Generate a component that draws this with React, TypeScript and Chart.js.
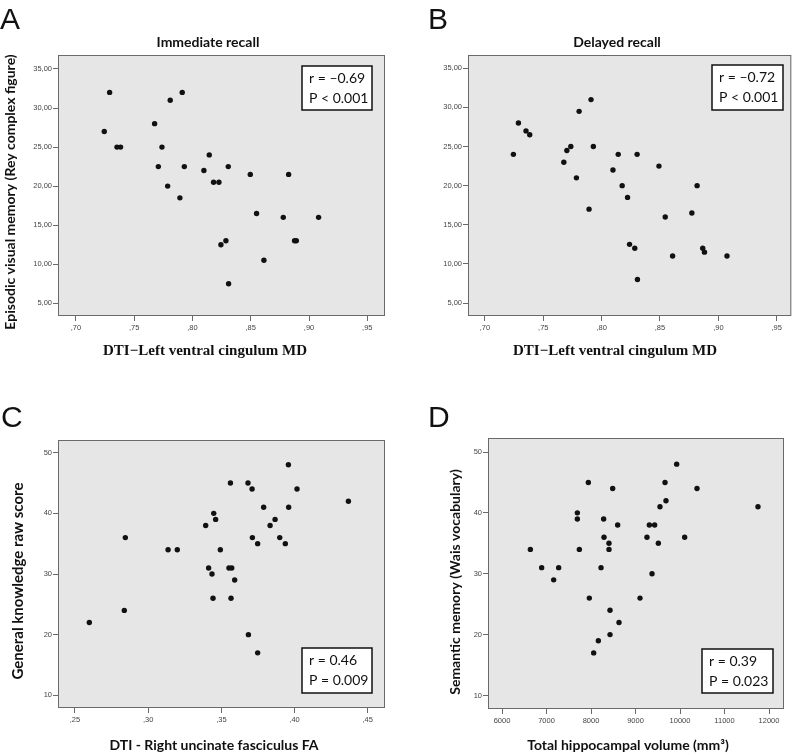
import React, { useEffect, useRef } from "react";
import { Chart, registerables } from "chart.js";

Chart.register(...registerables);

// ---------------- DATA ----------------
// Panel A: Immediate recall vs DTI left ventral cingulum MD
const aMD = [0.7243, 0.7289, 0.7352, 0.7383, 0.7738, 0.7675, 0.7707, 0.7787, 0.7809, 0.7892, 0.7912, 0.793, 0.8098, 0.8144, 0.8181, 0.8227, 0.8244, 0.8287, 0.8307, 0.831, 0.8496, 0.855, 0.8613, 0.8779, 0.8825, 0.8876, 0.8891, 0.9082];
const aImmediate = [27, 32, 25, 25, 25, 28, 22.5, 20, 31, 18.5, 32, 22.5, 22, 24, 20.5, 20.5, 12.5, 13, 22.5, 7.5, 21.5, 16.5, 10.5, 16, 21.5, 13, 13, 16];

// Panel B: Delayed recall vs DTI left ventral cingulum MD
const bMD = [0.7244, 0.7287, 0.7352, 0.7384, 0.7676, 0.7702, 0.7736, 0.7784, 0.7807, 0.7892, 0.7909, 0.7929, 0.8097, 0.8142, 0.8176, 0.8222, 0.8239, 0.8284, 0.8304, 0.8307, 0.8491, 0.8545, 0.8608, 0.8773, 0.8818, 0.8866, 0.8881, 0.9074];
const bDelayed = [24, 28, 27, 26.5, 23, 24.5, 25, 21, 29.5, 17, 31, 25, 22, 24, 20, 18.5, 12.5, 12, 24, 8, 22.5, 16, 11, 16.5, 20, 12, 11.5, 11];

// Panel C: General knowledge vs right uncinate fasciculus FA
const cFA = [0.2598, 0.2837, 0.2844, 0.3136, 0.3199, 0.3393, 0.3413, 0.3436, 0.3443, 0.3448, 0.3461, 0.3493, 0.3552, 0.3571, 0.3562, 0.3566, 0.3591, 0.3682, 0.3685, 0.371, 0.3712, 0.3748, 0.3748, 0.3789, 0.3833, 0.3867, 0.3899, 0.3937, 0.3958, 0.396, 0.4017, 0.4368];
const cKnowledge = [22, 24, 36, 34, 34, 38, 31, 30, 26, 40, 39, 34, 31, 31, 45, 26, 29, 45, 20, 44, 36, 35, 17, 41, 38, 39, 36, 35, 48, 41, 44, 42];

// Panel D: Semantic memory vs total hippocampal volume
const dVolume = [6637, 6891, 7161, 7273, 7693, 7693, 7738, 7940, 7962, 8060, 8165, 8225, 8284, 8292, 8404, 8404, 8427, 8427, 8487, 8599, 8629, 9101, 9258, 9311, 9371, 9430, 9513, 9550, 9663, 9685, 9925, 10105, 10382, 11752];
const dVocabulary = [34, 31, 29, 31, 40, 39, 34, 45, 26, 17, 19, 31, 39, 36, 35, 34, 24, 20, 44, 38, 22, 26, 36, 38, 30, 38, 35, 41, 45, 42, 48, 36, 44, 41];

// Tick values and labels
const mdTicks = [0.7, 0.75, 0.8, 0.85, 0.9, 0.95];
const mdTickLabels = [",70", ",75", ",80", ",85", ",90", ",95"];
const recallTicks = [5, 10, 15, 20, 25, 30, 35];
const recallTickLabels = ["5,00", "10,00", "15,00", "20,00", "25,00", "30,00", "35,00"];
const faTicks = [0.25, 0.3, 0.35, 0.4, 0.45];
const faTickLabels = [",25", ",30", ",35", ",40", ",45"];
const scoreTicks = [10, 20, 30, 40, 50];
const scoreTickLabels = ["10", "20", "30", "40", "50"];
const volumeTicks = [6000, 7000, 8000, 9000, 10000, 11000, 12000];
const volumeTickLabels = ["6000", "7000", "8000", "9000", "10000", "11000", "12000"];

// Texts
const panelLetters = ["A", "B", "C", "D"];
const panelTitles = ["Immediate recall", "Delayed recall", "", ""];
const statR = ["r = \u20130.69", "r = \u20130.72", "r = 0.46", "r = 0.39"];
const statP = ["P < 0.001", "P < 0.001", "P = 0.009", "P = 0.023"];
const yTitles = ["Episodic visual memory (Rey complex figure)", "", "General knowledge raw score", "Semantic memory (Wais vocabulary)"];
const xTitles = ["DTI\u2212Left ventral cingulum MD", "DTI\u2212Left ventral cingulum MD", "DTI - Right uncinate fasciculus FA", "Total hippocampal volume (mm\u00b3)"];

// ---------------- LAYOUT ----------------
const W = 794;
const H = 754;
const Y_AXIS_W = 30;
const X_AXIS_H = 20;

type PanelLayout = {
  plot: [number, number, number, number]; // left, top, right, bottom
  xRange: [number, number];
  yRange: [number, number];
  letter: [number, number];
  title: [number, number];
  yTitle: [number, number];
  yTitleFont: string;
  xTitle: [number, number];
  xTitleFont: string;
  box: [number, number, number, number];
};

const layouts: PanelLayout[] = [
  {
    plot: [58, 55, 385, 316],
    xRange: [0.6846, 0.9652],
    yRange: [3.37, 36.79],
    letter: [0, 29],
    title: [208, 42],
    yTitle: [10, 192],
    yTitleFont: "bold 14px Lato",
    xTitle: [205, 351],
    xTitleFont: "bold 15px 'Liberation Serif'",
    box: [302, 66, 372, 110],
  },
  {
    plot: [468, 55, 793, 316],
    xRange: [0.6855, 0.9625],
    yRange: [3.34, 36.7],
    letter: [428, 29],
    title: [617, 42],
    yTitle: [0, 0],
    yTitleFont: "bold 14px Lato",
    xTitle: [615, 351],
    xTitleFont: "bold 15px 'Liberation Serif'",
    box: [712, 65, 783, 110],
  },
  {
    plot: [58, 440, 385, 708],
    xRange: [0.2384, 0.4618],
    yRange: [7.91, 52.09],
    letter: [1, 427],
    title: [0, 0],
    yTitle: [18, 581],
    yTitleFont: "bold 15px Lato",
    xTitle: [214, 745],
    xTitleFont: "bold 14px Lato",
    box: [302, 648, 372, 693],
  },
  {
    plot: [488, 438, 784, 709],
    xRange: [5685, 12337],
    yRange: [7.78, 52.3],
    letter: [428, 427],
    title: [0, 0],
    yTitle: [455, 582],
    yTitleFont: "bold 14px Lato",
    xTitle: [628, 745],
    xTitleFont: "bold 14px Lato",
    box: [702, 649, 773, 693],
  },
];

const panelData = [
  { x: aMD, y: aImmediate, xt: mdTicks, xl: mdTickLabels, yt: recallTicks, yl: recallTickLabels },
  { x: bMD, y: bDelayed, xt: mdTicks, xl: mdTickLabels, yt: recallTicks, yl: recallTickLabels },
  { x: cFA, y: cKnowledge, xt: faTicks, xl: faTickLabels, yt: scoreTicks, yl: scoreTickLabels },
  { x: dVolume, y: dVocabulary, xt: volumeTicks, xl: volumeTickLabels, yt: scoreTicks, yl: scoreTickLabels },
];

function makePlugin(i: number) {
  const L = layouts[i];
  return {
    id: "panelDecor" + i,
    beforeDatasetsDraw(chart: any) {
      const { ctx, chartArea } = chart;
      ctx.save();
      ctx.fillStyle = "#e6e6e6";
      ctx.fillRect(chartArea.left, chartArea.top, chartArea.right - chartArea.left, chartArea.bottom - chartArea.top);
      ctx.restore();
    },
    afterDraw(chart: any) {
      const { ctx, chartArea } = chart;
      ctx.save();
      // frame
      ctx.strokeStyle = "#6a6a6a";
      ctx.lineWidth = 1;
      ctx.strokeRect(chartArea.left + 0.5, chartArea.top + 0.5, chartArea.right - chartArea.left - 1, chartArea.bottom - chartArea.top - 1);

      // letter
      ctx.fillStyle = "#111";
      ctx.font = "30px 'Liberation Sans'";
      ctx.textAlign = "left";
      ctx.textBaseline = "alphabetic";
      ctx.fillText(panelLetters[i], L.letter[0], L.letter[1]);

      // title
      if (panelTitles[i]) {
        ctx.font = "bold 14px Lato";
        ctx.textAlign = "center";
        ctx.textBaseline = "middle";
        ctx.fillStyle = "#111";
        ctx.fillText(panelTitles[i], L.title[0], L.title[1]);
      }

      // y title
      if (yTitles[i]) {
        ctx.save();
        ctx.translate(L.yTitle[0], L.yTitle[1]);
        ctx.rotate(-Math.PI / 2);
        ctx.font = L.yTitleFont;
        ctx.textAlign = "center";
        ctx.textBaseline = "middle";
        ctx.fillStyle = "#111";
        ctx.fillText(yTitles[i], 0, 0);
        ctx.restore();
      }

      // x title
      ctx.font = L.xTitleFont;
      ctx.textAlign = "center";
      ctx.textBaseline = "middle";
      ctx.fillStyle = "#111";
      ctx.fillText(xTitles[i], L.xTitle[0], L.xTitle[1]);

      // stat box
      const [bx0, by0, bx1, by1] = L.box;
      ctx.fillStyle = "#ffffff";
      ctx.fillRect(bx0, by0, bx1 - bx0, by1 - by0);
      ctx.strokeStyle = "#111";
      ctx.lineWidth = 1.5;
      ctx.strokeRect(bx0, by0, bx1 - bx0, by1 - by0);
      ctx.fillStyle = "#111";
      ctx.font = "14px Lato";
      ctx.textAlign = "left";
      ctx.textBaseline = "middle";
      ctx.fillText(statR[i], bx0 + 7, by0 + 12);
      ctx.fillText(statP[i], bx0 + 7, by0 + 32);
      ctx.restore();
    },
  };
}

function makeConfig(i: number): any {
  const L = layouts[i];
  const D = panelData[i];
  const [pl, pt, pr, pb] = L.plot;
  const tickFont = { family: "'Liberation Sans'", size: 7.5 };
  return {
    type: "scatter",
    data: {
      datasets: [
        {
          data: D.x.map((v, k) => ({ x: v, y: D.y[k] })),
          backgroundColor: "#111",
          borderColor: "#111",
          borderWidth: 0,
          pointRadius: 2.7,
          pointHoverRadius: 2.7,
        },
      ],
    },
    options: {
      animation: false,
      responsive: false,
      devicePixelRatio: 1,
      events: [],
      layout: {
        padding: { left: pl - Y_AXIS_W, top: pt, right: W - pr, bottom: H - pb - X_AXIS_H },
      },
      plugins: { legend: { display: false }, tooltip: { enabled: false }, title: { display: false } },
      scales: {
        x: {
          type: "linear",
          min: L.xRange[0],
          max: L.xRange[1],
          afterFit: (s: any) => { s.height = X_AXIS_H; },
          afterBuildTicks: (s: any) => { s.ticks = D.xt.map((v) => ({ value: v })); },
          ticks: {
            autoSkip: false,
            maxRotation: 0,
            padding: 2,
            color: "#444",
            font: tickFont,
            callback: (_v: any, idx: number) => D.xl[idx],
          },
          grid: { display: true, drawOnChartArea: false, drawTicks: true, tickLength: 5, color: "#6a6a6a" },
          border: { display: false },
        },
        y: {
          type: "linear",
          min: L.yRange[0],
          max: L.yRange[1],
          afterFit: (s: any) => { s.width = Y_AXIS_W; },
          afterBuildTicks: (s: any) => { s.ticks = D.yt.map((v) => ({ value: v })); },
          ticks: {
            autoSkip: false,
            padding: 1,
            color: "#444",
            font: tickFont,
            callback: (_v: any, idx: number) => D.yl[idx],
          },
          grid: { display: true, drawOnChartArea: false, drawTicks: true, tickLength: 5, color: "#6a6a6a" },
          border: { display: false },
        },
      },
    },
    plugins: [makePlugin(i)],
  };
}

export default function App() {
  const refs = [useRef<HTMLCanvasElement>(null), useRef<HTMLCanvasElement>(null), useRef<HTMLCanvasElement>(null), useRef<HTMLCanvasElement>(null)];

  useEffect(() => {
    const charts: Chart[] = [];
    refs.forEach((r, i) => {
      if (r.current) charts.push(new Chart(r.current, makeConfig(i)));
    });
    return () => charts.forEach((c) => c.destroy());
  }, []);

  return (
    <div style={{ position: "absolute", left: 0, top: 0, width: W, height: H, background: "#ffffff" }}>
      {refs.map((r, i) => (
        <canvas
          key={i}
          ref={r}
          width={W}
          height={H}
          style={{ position: "absolute", left: 0, top: 0, width: W, height: H }}
        />
      ))}
    </div>
  );
}
